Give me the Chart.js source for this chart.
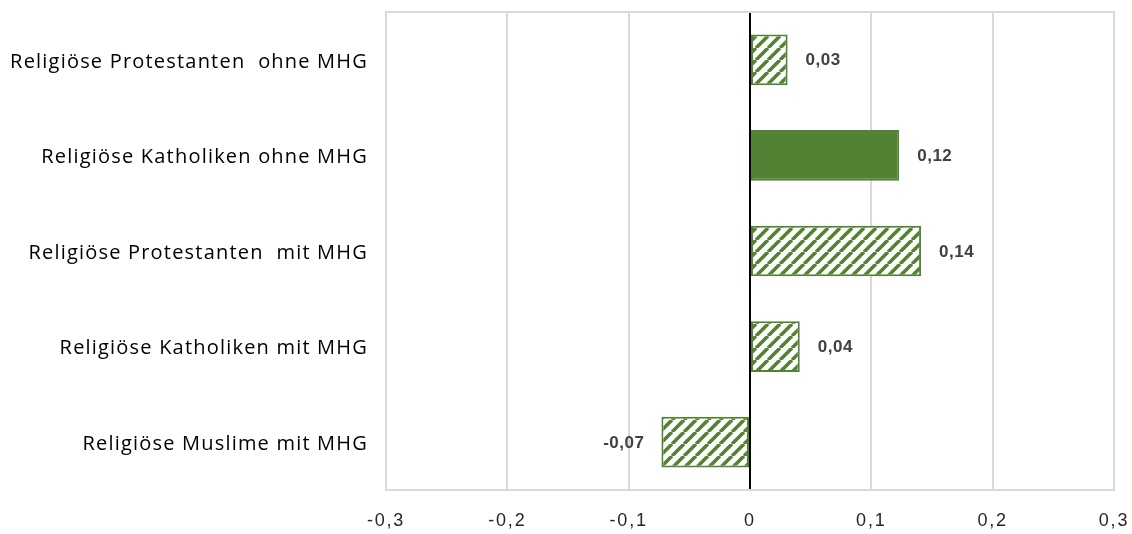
<!DOCTYPE html>
<html><head><meta charset="utf-8">
<script src="https://cdn.jsdelivr.net/npm/chart.js@4/dist/chart.umd.min.js"></script>
<style>html,body{margin:0;padding:0;background:#fff}#wrap{width:1132px;height:534px}</style>
</head><body><div id="wrap"><canvas id="c" width="1132" height="534"></canvas></div>
<script>
const categories = ["Religiöse Protestanten  ohne MHG","Religiöse Katholiken ohne MHG","Religiöse Protestanten  mit MHG","Religiöse Katholiken mit MHG","Religiöse Muslime mit MHG"];
const values = [0.031, 0.123, 0.141, 0.041, -0.073];
const solidFlags = [false, true, false, false, false];
const tickValues = [-0.3,-0.2,-0.1,0,0.1,0.2,0.3];

const GREEN = '#548235';
function makeHatch(){
  const s = 12;
  const p = document.createElement('canvas'); p.width = s; p.height = s;
  const g = p.getContext('2d');
  g.fillStyle = '#fff'; g.fillRect(0,0,s,s);
  g.strokeStyle = GREEN; g.lineWidth = 3.6;
  g.beginPath();
  for (let k=-1;k<=1;k++){ g.moveTo(k*s, s); g.lineTo(k*s+s, 0); }
  g.stroke();
  return document.getElementById('c').getContext('2d').createPattern(p,'repeat');
}
const hatch = makeHatch();
const fmt = v => v.toFixed(2).replace('.', ',');

const textPlugin = {
  id:'texts',
  beforeDraw(chart){ chart.ctx.letterSpacing = '1.8px'; },
  afterDraw(chart){
    const ctx = chart.ctx; const meta = chart.getDatasetMeta(0);
    const ys = chart.scales.y; const ca = chart.chartArea;
    ctx.save();
    ctx.strokeStyle = '#d9d9d9'; ctx.lineWidth = 2;
    ctx.beginPath(); ctx.moveTo(ca.left-1, ca.top); ctx.lineTo(ca.right+1, ca.top); ctx.stroke();
    ctx.letterSpacing = '0.5px';
    ctx.font = 'bold 17px "Liberation Sans", Arial, sans-serif';
    ctx.fillStyle = '#404040'; ctx.textBaseline = 'middle';
    meta.data.forEach((bar,i)=>{
      const v = values[i];
      if (v>=0){ ctx.textAlign='left'; ctx.fillText(fmt(v), bar.x+18, bar.y+1); }
      else { ctx.textAlign='right'; ctx.fillText(fmt(v), bar.x-17, bar.y+1); }
    });
    ctx.letterSpacing = '1.2px';
    ctx.font = '20px "Open Sans", sans-serif';
    ctx.fillStyle = '#000'; ctx.textAlign = 'right';
    categories.forEach((c,i)=>{ ctx.fillText(c, 368, ys.getPixelForValue(i)+2); });
    ctx.restore();
  }
};

new Chart(document.getElementById('c'), {
  type:'bar',
  data:{ labels:categories, datasets:[{
    data:values,
    backgroundColor: solidFlags.map(f=> f?GREEN:hatch),
    borderColor: GREEN, borderWidth: 2, borderSkipped: false,
    barPercentage:0.53, categoryPercentage:1
  }]},
  options:{
    responsive:false, animation:false, indexAxis:'y',
    layout:{padding:{top:12,right:18,left:0,bottom:0}},
    plugins:{legend:{display:false}, tooltip:{enabled:false}},
    scales:{
      x:{ min:-0.3, max:0.3,
        afterBuildTicks(s){ s.ticks = tickValues.map(v=>({value:v})); },
        afterFit(s){ s.height = 44; s.paddingLeft = 0; s.paddingRight = 0; },
        grid:{ color: c => (c.tick && Math.abs(c.tick.value)<1e-9) ? '#000' : '#d9d9d9', lineWidth:2, drawTicks:false },
        border:{ display:true, color:'#d9d9d9', width:2 },
        ticks:{ font:{family:'"Liberation Sans", Arial, sans-serif', size:18}, color:'#262626', padding:20,
          callback:(v)=> v===0 ? '0' : fmt(v).replace(/,(\d)0$/, ',$1') }
      },
      y:{
        afterFit(s){ s.width = 386; },
        grid:{ display:false, drawTicks:false },
        border:{ display:false },
        ticks:{ display:false }
      }
    }
  },
  plugins:[textPlugin]
});
</script></body></html>
